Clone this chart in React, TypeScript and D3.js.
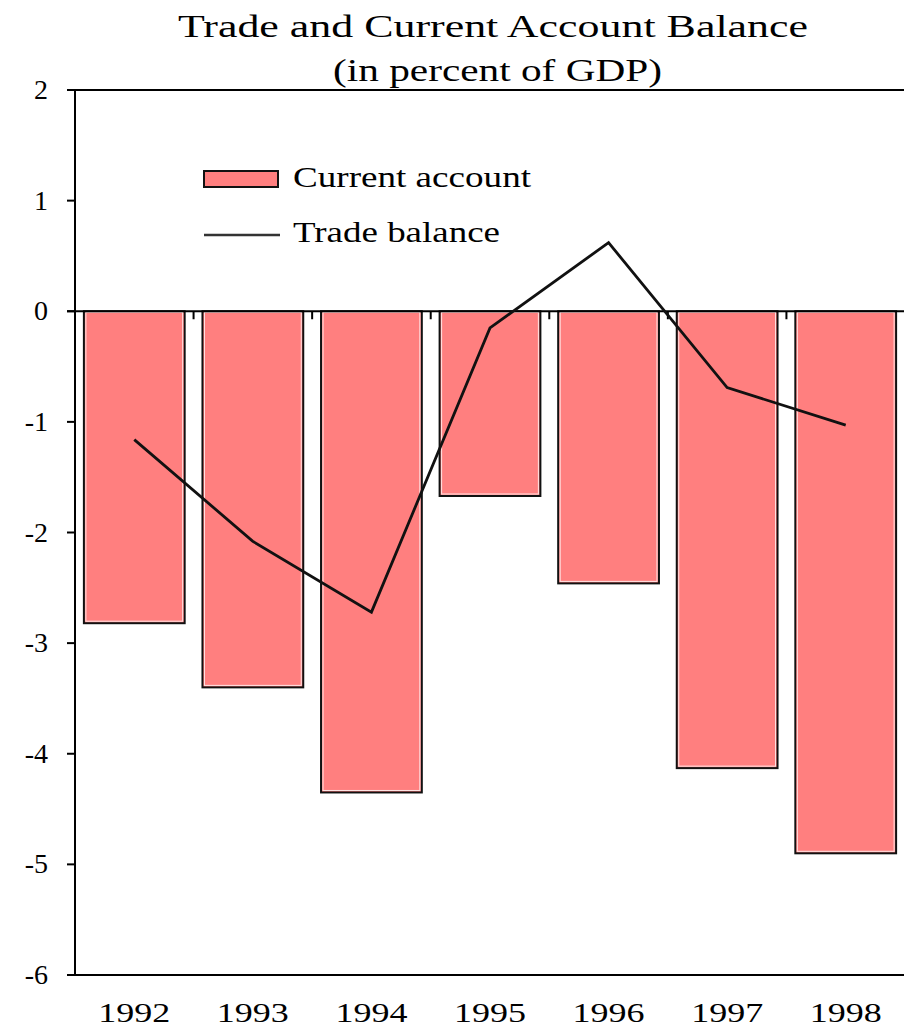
import React from "react";
import * as d3 from "d3";

const years = ["1992", "1993", "1994", "1995", "1996", "1997", "1998"];
const currentAccount = [-2.82, -3.4, -4.35, -1.67, -2.46, -4.13, -4.9];
const tradeBalance = [-1.16, -2.08, -2.72, -0.15, 0.62, -0.69, -1.03];
const yTicks = [2, 1, 0, -1, -2, -3, -4, -5, -6];

const W = 904;
const H = 1031;
const left = 75;
const right = 905;
const top = 90;
const bottom = 975;
const font = "'Liberation Serif', 'Times New Roman', serif";

export default function App() {
  const x = d3.scaleBand<string>().domain(years).range([left, right]).paddingInner(0.15).paddingOuter(0.075);
  const y = d3.scaleLinear().domain([-6, 2]).range([bottom, top]);
  const line = d3
    .line<number>()
    .x((_, i) => (x(years[i]) as number) + x.bandwidth() / 2)
    .y((d) => y(d));
  const step = x.step();
  const boundaries = d3.range(1, years.length).map((i) => left + i * step);

  return (
    <svg width={W} height={H} style={{ position: "absolute", left: 0, top: 0 }}>
      <rect width={W} height={H} fill="#fff" />
      <text x={178} y={37} fontFamily={font} fontSize={32} textLength={630} lengthAdjust="spacingAndGlyphs">
        Trade and Current Account Balance
      </text>
      <text x={333} y={81} fontFamily={font} fontSize={32} textLength={329} lengthAdjust="spacingAndGlyphs">
        (in percent of GDP)
      </text>

      {years.map((yr, i) => {
        const v = currentAccount[i];
        const x0 = x(yr) as number;
        const y0 = y(0);
        const y1 = y(v);
        return (
          <g key={yr}>
            <rect x={x0} y={y0} width={x.bandwidth()} height={y1 - y0} fill="#FF7F7F" stroke="#111" strokeWidth={2} />
            <rect x={x0 + 2} y={y0 + 1} width={x.bandwidth() - 4} height={y1 - y0 - 3} fill="none" stroke="#fff" strokeWidth={1} opacity={0.8} />
          </g>
        );
      })}

      {/* zero line */}
      <line x1={left - 8} x2={W} y1={y(0)} y2={y(0)} stroke="#000" strokeWidth={2} />
      {boundaries.map((bx, i) => (
        <line key={i} x1={bx} x2={bx} y1={y(0)} y2={y(0) + 8} stroke="#000" strokeWidth={2} />
      ))}

      {/* frame */}
      <line x1={left} x2={W} y1={top} y2={top} stroke="#000" strokeWidth={2} />
      <line x1={left} x2={W} y1={bottom} y2={bottom} stroke="#000" strokeWidth={2} />
      <line x1={left} x2={left} y1={top} y2={bottom} stroke="#000" strokeWidth={2} />

      {yTicks.map((t) => (
        <g key={t}>
          <line x1={left - 8} x2={left} y1={y(t)} y2={y(t)} stroke="#000" strokeWidth={2} />
          <text x={48} y={y(t) + 9} textAnchor="end" fontFamily={font} fontSize={28}>
            {t}
          </text>
        </g>
      ))}

      {years.map((yr) => (
        <text
          key={yr}
          x={(x(yr) as number) + x.bandwidth() / 2 - 36}
          y={1022}
          fontFamily={font}
          fontSize={27}
          textLength={72}
          lengthAdjust="spacingAndGlyphs"
        >
          {yr}
        </text>
      ))}

      <path d={line(tradeBalance) as string} fill="none" stroke="#111" strokeWidth={2.8} />

      {/* legend */}
      <rect x={204} y={171} width={74} height={16} fill="#FF7F7F" stroke="#111" strokeWidth={2} />
      <text x={293} y={187} fontFamily={font} fontSize={29} textLength={238} lengthAdjust="spacingAndGlyphs">
        Current account
      </text>
      <line x1={204} x2={280} y1={235} y2={235} stroke="#333" strokeWidth={2.5} />
      <text x={293} y={242} fontFamily={font} fontSize={29} textLength={207} lengthAdjust="spacingAndGlyphs">
        Trade balance
      </text>
    </svg>
  );
}
